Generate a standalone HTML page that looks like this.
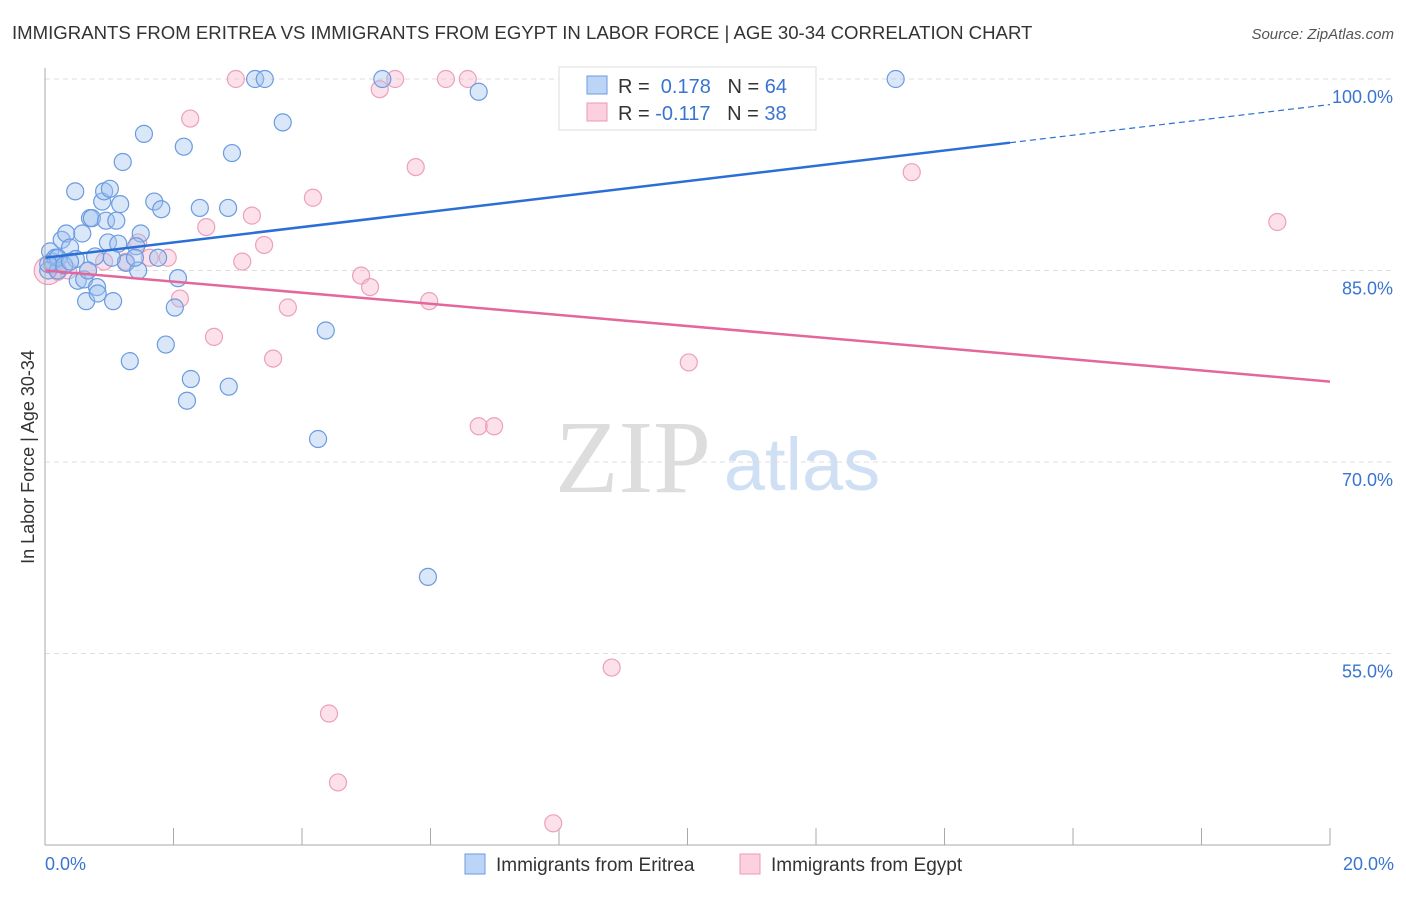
<!DOCTYPE html>
<html><head><meta charset="utf-8"><style>
body{margin:0;background:#fff;font-family:"Liberation Sans",sans-serif}
</style></head><body>
<svg id="chart" width="1406" height="892" xmlns="http://www.w3.org/2000/svg" font-family="Liberation Sans, sans-serif">
<text x="12" y="39" font-size="18.6" fill="#333">IMMIGRANTS FROM ERITREA VS IMMIGRANTS FROM EGYPT IN LABOR FORCE | AGE 30-34 CORRELATION CHART</text>
<text x="1394" y="39" font-size="15" fill="#555" text-anchor="end" font-style="italic">Source: ZipAtlas.com</text>
<text transform="translate(34,457) rotate(-90)" font-size="18" fill="#333" text-anchor="middle">In Labor Force | Age 30-34</text>
<g><text x="633" y="492" font-size="104" fill="#ddd" font-family="Liberation Serif, serif" text-anchor="middle">ZIP</text><text x="802" y="490" font-size="74" fill="#cfe0f4" text-anchor="middle">atlas</text></g>
<g id="grid"></g><g id="marks"></g><g id="lines"></g>
<line x1="45" y1="68" x2="45" y2="845" stroke="#aaa"/>
<line x1="45" y1="845" x2="1330" y2="845" stroke="#aaa"/>
<text x="45" y="870" font-size="18" fill="#3a74d1">0.0%</text>
<text x="1394" y="870" font-size="18" fill="#3a74d1" text-anchor="end">20.0%</text>
<g>
<rect x="559" y="67" width="257" height="63" fill="#fff" stroke="#ddd"/>
<rect x="587" y="76" width="20" height="18" fill="#bcd4f5" stroke="#6b9be0"/>
<rect x="587" y="103" width="20" height="18" fill="#fcd0de" stroke="#ec9ab5"/>
<text x="618" y="93" font-size="20" fill="#333">R = <tspan fill="#3a74d1">&#160;0.178</tspan>&#160;&#160;&#160;N = <tspan fill="#3a74d1">64</tspan></text>
<text x="618" y="120" font-size="20" fill="#333">R = <tspan fill="#3a74d1">-0.117</tspan>&#160;&#160;&#160;N = <tspan fill="#3a74d1">38</tspan></text>
</g>
<g>
<rect x="465" y="854" width="20" height="20" fill="#bcd4f5" stroke="#6b9be0"/>
<text x="496" y="871" font-size="19" fill="#333">Immigrants from Eritrea</text>
<rect x="740" y="854" width="20" height="20" fill="#fcd0de" stroke="#ec9ab5"/>
<text x="771" y="871" font-size="19" fill="#333">Immigrants from Egypt</text>
</g>
</svg>
<script>
const yTicks=[100,85,70,55];
const yTickLabels=["100.0%","85.0%","70.0%","55.0%"];
const xTicks=[0,2,4,6,8,10,12,14,16,18,20];
const eritreaX=[.08,.11,.16,.05,.2,.26,.33,.39,.47,.48,.51,.58,.61,.64,.70,.73,.78,.81,.82,.89,.92,.95,.98,1.01,1.06,1.11,1.14,1.17,1.21,1.26,1.32,1.45,1.49,1.54,1.70,1.76,1.81,1.88,2.02,2.07,2.16,2.21,2.27,2.41,2.85,2.86,2.91,3.27,3.42,3.70,4.25,4.37,5.25,5.96,6.75,13.24,.20,.05,.30,.39,.67,1.04,1.42,1.40];
const eritreaY=[86.5,85.7,86.0,85.0,85.0,87.4,87.9,86.8,91.2,85.9,84.2,87.9,84.3,82.6,89.1,89.1,86.1,83.7,83.2,90.4,91.2,88.9,87.2,91.4,82.6,88.9,87.1,90.2,93.5,85.6,77.9,85.0,87.9,95.7,90.4,86.0,89.8,79.2,82.1,84.4,94.7,74.8,76.5,89.9,89.9,75.9,94.2,100,100,96.6,71.8,80.3,100,61.0,99.0,100,86.0,85.5,85.4,85.7,85.0,86.0,86.9,86.0];
const egyptX=[.05,.2,.36,.67,.92,1.26,1.45,1.63,1.91,2.10,2.26,2.51,2.63,2.97,3.07,3.22,3.41,3.55,3.78,4.17,4.42,4.56,4.92,5.06,5.21,5.45,5.77,5.98,6.24,6.58,6.75,6.99,7.91,8.82,10.02,13.49,19.18,.11];
const egyptY=[85.0,84.9,85.0,85.0,85.7,85.7,87.2,86.0,86.0,82.8,96.9,88.4,79.8,100,85.7,89.3,87.0,78.1,82.1,90.7,50.3,44.9,84.6,83.7,99.2,100,93.1,82.6,100,100,72.8,72.8,41.7,53.9,77.8,92.7,88.8,85.4];
const eritreaTrend=[86.0,98.0]; const eritreaSolidEnd=15.02;
const egyptTrend=[85.0,76.3];
const sx=v=>45+v*64.25, sy=v=>79+(100-v)*191.5/15;
const NS="http://www.w3.org/2000/svg";
function mk(p,t,a){const e=document.createElementNS(NS,t);for(const k in a)e.setAttribute(k,a[k]);p.appendChild(e);return e;}
const grid=document.getElementById('grid'),marks=document.getElementById('marks'),lines=document.getElementById('lines'),svg=document.getElementById('chart');
yTicks.forEach((t,i)=>{
 const l=mk(grid,'line',{x1:45,x2:1394,y1:sy(t),y2:sy(t),stroke:'#ddd','stroke-dasharray':'5,4'});
 
 
 const tx=mk(svg,'text',{x:1393,y:sy(t)+24,'font-size':18,fill:'#3a74d1','text-anchor':'end'});
 tx.textContent=yTickLabels[i];
 
 
});
xTicks.forEach(t=>{
 const l=mk(grid,'line',{x1:sx(t),x2:sx(t),y1:828,y2:845,stroke:'#aaa'});
 
 
});
egyptX.forEach((x,i)=>{
 const c=mk(marks,'circle',{cx:sx(x),cy:sy(egyptY[i]),r:i==0?14:8.5,fill:'rgba(248,180,202,0.4)',stroke:'#eca0ba','stroke-width':1.2});
 
 
});
eritreaX.forEach((x,i)=>{
 const c=mk(marks,'circle',{cx:sx(x),cy:sy(eritreaY[i]),r:8.5,fill:'rgba(160,195,240,0.4)',stroke:'#6b9be0','stroke-width':1.2});
 
 
});
const by=x=>eritreaTrend[0]+(eritreaTrend[1]-eritreaTrend[0])*x/20;
let l1=mk(lines,'line',{x1:sx(0),y1:sy(by(0)),x2:sx(eritreaSolidEnd),y2:sy(by(eritreaSolidEnd)),stroke:'#2b6fd6','stroke-width':2.5});


let l2=mk(lines,'line',{x1:sx(eritreaSolidEnd),y1:sy(by(eritreaSolidEnd)),x2:sx(20),y2:sy(by(20)),stroke:'#2b6fd6','stroke-width':1.2,'stroke-dasharray':'6,4'});


let l3=mk(lines,'line',{x1:sx(0),y1:sy(egyptTrend[0]),x2:sx(20),y2:sy(egyptTrend[1]),stroke:'#e4679a','stroke-width':2.5});


</script>
</body></html>
